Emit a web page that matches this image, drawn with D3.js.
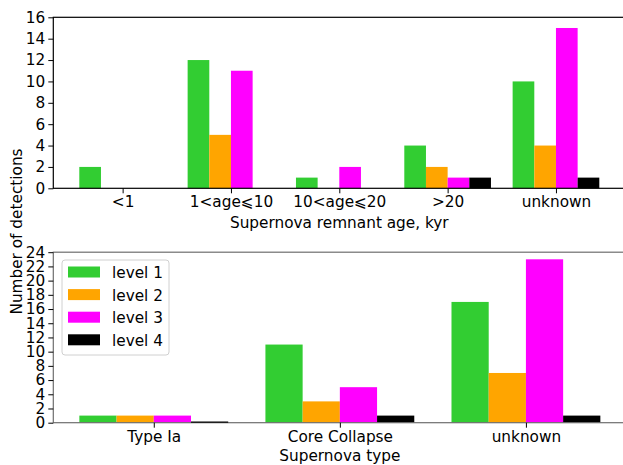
<!DOCTYPE html>
<html>
<head>
<meta charset="utf-8">
<script src="https://cdn.jsdelivr.net/npm/d3@7"></script>
<style>
  body { margin: 0; background: #fff; }
  svg text { font-family: "DejaVu Sans", sans-serif; fill: #000; }
</style>
</head>
<body>
<svg id="chart" width="623" height="465"></svg>
<script>
// data
var ageCategories = ["<1", "1<age\u2a7d10", "10<age\u2a7d20", ">20", "unknown"];
var ageLevel1 = [2, 12, 1, 4, 10];
var ageLevel2 = [0, 5, 0, 2, 4];
var ageLevel3 = [0, 11, 2, 1, 15];
var ageLevel4 = [0, 0, 0, 1, 1];
var ageTicks = [0, 2, 4, 6, 8, 10, 12, 14, 16];

var typeCategories = ["Type Ia", "Core Collapse", "unknown"];
var typeLevel1 = [1, 11, 17];
var typeLevel2 = [1, 3, 7];
var typeLevel3 = [1, 5, 23];
var typeLevel4 = [0, 1, 1];
var typeTicks = [0, 2, 4, 6, 8, 10, 12, 14, 16, 18, 20, 22, 24];

var levelNames = ["level 1", "level 2", "level 3", "level 4"];
var levelColors = ["#32cd32", "#ffa500", "#ff00ff", "#000000"];

var fontSize = "15.3px";
var svg = d3.select("#chart");

function draw_panel(opts) {
    var n = opts.categories.length;
    // matplotlib style 5% margin around the bars
    var span = (n - 1) + 0.8;
    var pad = span * 0.05;
    var x = d3.scaleLinear()
        .domain([-0.4 - pad, n - 1 + 0.4 + pad])
        .range([opts.left, opts.right]);
    var y = d3.scaleLinear()
        .domain([0, opts.yMax])
        .range([opts.bottom, opts.top]);

    var g = svg.append("g");
    var barW = x(0.2) - x(0);

    opts.series.forEach(function (vals, s) {
        var off = -0.3 + 0.2 * s;
        g.selectAll(".bar" + s)
            .data(vals)
            .enter()
            .append("rect")
            .attr("x", function (d, i) { return x(i + off - 0.1); })
            .attr("y", function (d) { return y(d); })
            .attr("width", barW)
            .attr("height", function (d) { return y(0) - y(d); })
            .style("fill", levelColors[s]);
    });

    // spines
    g.append("rect")
        .attr("x", opts.left)
        .attr("y", opts.top)
        .attr("width", opts.right - opts.left)
        .attr("height", opts.bottom - opts.top)
        .style("fill", "none")
        .style("stroke", opts.spine)
        .style("stroke-width", 1.2);

    // level 4 zero bar still shows as a thin black line in the lower panel
    if (opts.zeroLine) {
        opts.series[3].forEach(function (d, i) {
            if (d == 0) {
                g.append("line")
                    .attr("x1", x(i + 0.2)).attr("x2", x(i + 0.4))
                    .attr("y1", y(0) - 0.5).attr("y2", y(0) - 0.5)
                    .style("stroke", "#000").style("stroke-width", 1.2);
            }
        });
    }

    var yAxis = d3.axisLeft(y)
        .tickValues(opts.yTicks)
        .tickSize(5)
        .tickPadding(3);
    var ya = g.append("g")
        .attr("transform", "translate(" + opts.left + ",0)")
        .call(yAxis);
    ya.select(".domain").remove();
    ya.selectAll("line").style("stroke", "#000").style("stroke-width", 1);
    ya.selectAll("text").style("font-size", fontSize).style("font-family", "DejaVu Sans");

    var xAxis = d3.axisBottom(x)
        .tickValues(d3.range(n))
        .tickFormat(function (d) { return opts.categories[d]; })
        .tickSize(5)
        .tickPadding(3);
    var xa = g.append("g")
        .attr("transform", "translate(0," + opts.bottom + ")")
        .call(xAxis);
    xa.select(".domain").remove();
    xa.selectAll("line").style("stroke", "#000").style("stroke-width", 1);
    xa.selectAll("text").style("font-size", fontSize).style("font-family", "DejaVu Sans");

    g.append("text")
        .attr("x", (opts.left + opts.right) / 2)
        .attr("y", opts.labelY)
        .attr("text-anchor", "middle")
        .style("font-size", fontSize)
        .text(opts.xLabel);

    return g;
}

draw_panel({
    categories: ageCategories,
    series: [ageLevel1, ageLevel2, ageLevel3, ageLevel4],
    yMax: 16,
    yTicks: ageTicks,
    left: 53.3, right: 625.3, top: 17.3, bottom: 188.3,
    spine: "#000",
    xLabel: "Supernova remnant age, kyr",
    labelY: 228
});

draw_panel({
    categories: typeCategories,
    series: [typeLevel1, typeLevel2, typeLevel3, typeLevel4],
    yMax: 24,
    yTicks: typeTicks,
    left: 53.3, right: 626.4, top: 252.2, bottom: 422.7,
    spine: "#6e6e6e",
    zeroLine: true,
    xLabel: "Supernova type",
    labelY: 461
});

// legend
var legend = svg.append("g").attr("transform", "translate(62,260)");
legend.append("rect")
    .attr("width", 107)
    .attr("height", 95)
    .attr("rx", 3)
    .style("fill", "#fff")
    .style("fill-opacity", 0.8)
    .style("stroke", "#d0d0d0");
levelNames.forEach(function (name, i) {
    var row = legend.append("g").attr("transform", "translate(0," + (12.5 + i * 22.6) + ")");
    row.append("rect")
        .attr("x", 6).attr("y", -6)
        .attr("width", 32).attr("height", 11)
        .style("fill", levelColors[i]);
    row.append("text")
        .attr("x", 50).attr("y", 5.5)
        .style("font-size", fontSize)
        .text(name);
});

// shared y label
svg.append("text")
    .attr("transform", "translate(22,231.5) rotate(-90)")
    .attr("text-anchor", "middle")
    .style("font-size", fontSize)
    .text("Number of detections");
</script>
</body>
</html>
